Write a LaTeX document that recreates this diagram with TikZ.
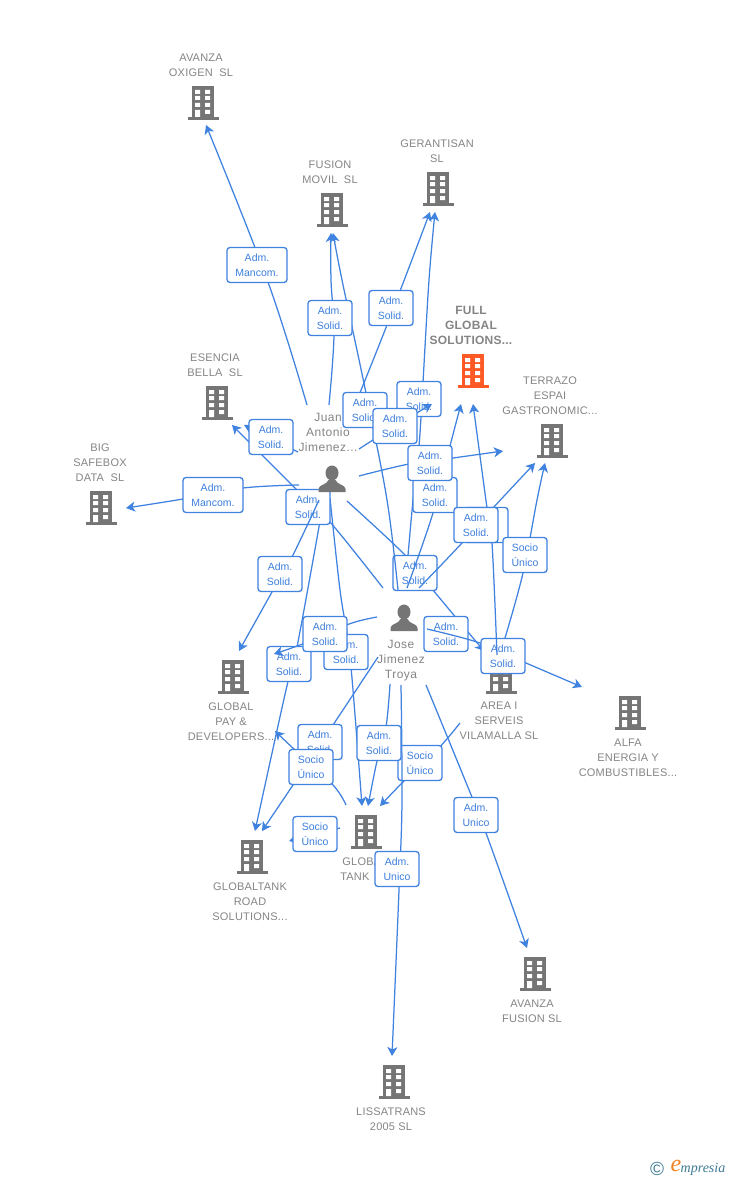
\documentclass[tikz,border=0pt]{standalone}
\usepackage{fontspec}
\setmainfont{Liberation Sans}
\newfontfamily\lblfont[LetterSpace=2]{Liberation Sans}
\newfontfamily\perfont[LetterSpace=4]{Liberation Sans}
\newfontfamily\logofont{Liberation Serif}
\usetikzlibrary{arrows.meta}
\definecolor{lnk}{HTML}{3F82E0}
\definecolor{boxtxt}{HTML}{3D7FDC}
\definecolor{lab}{HTML}{858585}
\definecolor{bgray}{HTML}{757575}
\definecolor{bor}{HTML}{FF5A26}
\definecolor{logoteal}{HTML}{3F7A94}
\definecolor{logoor}{HTML}{F58220}
\pgfdeclarelayer{paper}
\pgfdeclarelayer{back}
\pgfsetlayers{paper,back,main}
\tikzset{
  x=1pt,y=-1pt,
  link/.style={draw=lnk,line width=1.25pt,line join=round},
  arr/.style={link,-{Stealth[length=9pt,width=10pt,inset=2.5pt]}},
  rolebox/.style={draw=lnk,line width=1.3pt,fill=white,rounded corners=3pt,minimum width=44pt,minimum height=35pt,inner sep=0pt,align=center,text=boxtxt,font=\fontsize{10.5}{15}\selectfont},
  widebox/.style={rolebox,minimum width=60pt},
  lbl/.style={align=center,inner sep=0pt,text=lab,font=\lblfont\fontsize{11}{15}\selectfont},
  lblmain/.style={lbl,font=\lblfont\bfseries\fontsize{12}{15}\selectfont},
  perlbl/.style={align=center,inner sep=0pt,text=lab,font=\perfont\fontsize{12}{15}\selectfont},
  pics/bldg/.style={code={
    \coordinate (-c) at (0,0);
    \fill[#1] (-11,-17) rectangle (11,14);
    \fill[#1] (-15.5,14) rectangle (15.5,17);
    \fill[white] (-8,-13) rectangle (-3,-9) (2,-13) rectangle (7,-9)
                 (-8,-7) rectangle (-3,-3) (2,-7) rectangle (7,-3)
                 (-8,0) rectangle (-3,4) (2,0) rectangle (7,4)
                 (-8,7) rectangle (-3,14) (2,7) rectangle (7,11);
  }},
  pics/person/.style={code={
    \coordinate (-c) at (0,0);
    \fill[bgray] (0,-6) ellipse (6.5 and 7.5);
    \fill[bgray] (-13.5,13) -- (-13.5,10) .. controls (-13.5,5.5) and (-5,6) .. (-3.5,1) -- (3.5,1) .. controls (5,6) and (13.5,5.5) .. (13.5,10) -- (13.5,13) -- cycle;
  }}
}
\begin{document}
\begin{tikzpicture}
\useasboundingbox (0,0) rectangle (728,1180);
\begin{pgfonlayer}{paper}
\fill[white] (0,0) rectangle (728,1180);
\end{pgfonlayer}

% buildings
\pic (bOx) at (203,103) {bldg=bgray};
\pic (bFu) at (332,210) {bldg=bgray};
\pic (bGe) at (438,189) {bldg=bgray};
\pic (bFull) at (473,371) {bldg=bor};
\pic (bTe) at (552,441) {bldg=bgray};
\pic (bEs) at (217,403) {bldg=bgray};
\pic (bBig) at (101,508) {bldg=bgray};
\pic (bPay) at (233,677) {bldg=bgray};
\pic (bAlfa) at (630,713) {bldg=bgray};
\pic (bGt) at (366,832) {bldg=bgray};
\pic (bRoad) at (252,857) {bldg=bgray};
\pic (bAf) at (535,974) {bldg=bgray};
\pic (bLi) at (394,1082) {bldg=bgray};
\pic (juan) at (332,479) {person};
\pic (jose) at (404,618) {person};

% labels
\node[lbl] (tOx) at (201,65) {AVANZA\\OXIGEN\ \ SL};
\node[lbl] (tFu) at (330,172) {FUSION\\MOVIL\ \ SL};
\node[lbl] (tGe) at (437,151) {GERANTISAN\\SL};
\node[lblmain] (tFull) at (471,325.5) {FULL\\GLOBAL\\SOLUTIONS...};
\node[lbl] (tTe) at (550,395.5) {TERRAZO\\ESPAI\\GASTRONOMIC...};
\node[lbl] (tEs) at (215,365) {ESENCIA\\BELLA\ \ SL};
\node[lbl] (tBig) at (100,462.5) {BIG\\SAFEBOX\\DATA\ \ SL};
\node[lbl] (tPay) at (231,721.5) {GLOBAL\\PAY \&\\DEVELOPERS...};
\node[lbl] (tArea) at (499,720.5) {AREA I\\SERVEIS\\VILAMALLA SL};
\node[lbl] (tAlfa) at (628,757.5) {ALFA\\ENERGIA Y\\COMBUSTIBLES...};
\node[lbl] (tRoad) at (250,901.5) {GLOBALTANK\\ROAD\\SOLUTIONS...};
\node[lbl] (tGt) at (365,869) {GLOBAL\\TANK\ \ SL};
\node[lbl] (tAf) at (532,1011) {AVANZA\\FUSION SL};
\node[lbl] (tLi) at (391,1119) {LISSATRANS\\2005 SL};
\node[perlbl] (tJuan) at (328,432.5) {Juan\\Antonio\\Jimenez...};
\node[perlbl] (tJose) at (401,660.5) {Jose\\Jimenez\\Troya};

% role boxes that hide connectors
\node[widebox] (rOx) at (257,265) {Adm.\\Mancom.};
\node[rolebox] (rFu) at (330,318) {Adm.\\Solid.};
\node[rolebox] (rGe) at (391,308) {Adm.\\Solid.};
\node[rolebox] (rJf) at (365,410) {Adm.\\Solid.};
\node[rolebox] (rX) at (395,426) {Adm.\\Solid.};
\node[rolebox] (rEs) at (271,437) {Adm.\\Solid.};
\node[widebox] (rBig) at (213,495) {Adm.\\Mancom.};
\node[rolebox] (rFull) at (435,495) {Adm.\\Solid.};
\node[rolebox] (rTe) at (430,463) {Adm.\\Solid.};
\node[rolebox] (rAf) at (486,525) {};
\node[rolebox] (rJt) at (476,525) {Adm.\\Solid.};
\node[rolebox] (rAt) at (525,555) {Socio\\Único};
\node[rolebox] (rPay) at (280,574) {Adm.\\Solid.};
\node[rolebox] (rGt) at (346,652) {Adm.\\Solid.};
\node[rolebox] (rJp) at (325,634) {Adm.\\Solid.};
\node[rolebox] (rJr) at (320,742) {Adm.\\Solid.};
\node[rolebox] (rGp) at (311,767) {Socio\\Único};
\node[rolebox] (rJg) at (379,743) {Adm.\\Solid.};
\node[rolebox] (rGr) at (315,834) {Socio\\Único};
\node[rolebox] (rLi) at (397,869) {Adm.\\Unico};
\node[rolebox] (rAv) at (476,815) {Adm.\\Unico};

% connectors and the boxes they cross
\begin{pgfonlayer}{back}
\pic (bArea) at (501,677) {bldg=bgray};
% Juan
\coordinate (a1) at (307,405); \coordinate (z1) at (206,125);
\draw[arr] plot[smooth,tension=.6] coordinates {(a1) (268,282) (z1)};
\coordinate (a2) at (329,405); \coordinate (z2) at (331,233);
\draw[arr] plot[smooth,tension=.6] coordinates {(a2) (334,335) (331,280) (z2)};
\coordinate (a4) at (355,405); \coordinate (z4) at (430,212);
\draw[arr] plot[smooth,tension=.6] coordinates {(a4) (387,325) (z4)};
\coordinate (a7) at (359,476); \coordinate (z7) at (503,451);
\draw[arr] plot[smooth,tension=.6] coordinates {(a7) (409,464) (453,458) (z7)};
\coordinate (a10) at (298,452); \coordinate (z10) at (244,425);
\draw[arr] (a10) -- (z10);
\coordinate (a12) at (299,485); \coordinate (z12) at (126,508);
\draw[arr] plot[smooth,tension=.6] coordinates {(a12) (243,488) (183,499) (z12)};
\coordinate (a14) at (322,510); \coordinate (z14) at (255,831);
\draw[arr] plot[smooth,tension=.6] coordinates {(a14) (297,647) (286,690) (z14)};
\coordinate (a15) at (330,498); \coordinate (z15) at (362,806);
\draw[arr] plot[smooth,tension=.6] coordinates {(a15) (340,590) (348,640) (353,690) (z15)};
\coordinate (a24) at (347,501); \coordinate (z24) at (484,651);
\draw[arr] plot[smooth,tension=.6] coordinates {(a24) (407,557) (433,590) (z24)};
\coordinate (a5) at (405,590); \coordinate (z5) at (435,212);
\draw[arr] plot[smooth,tension=.6] coordinates {(a5) (413,500) (419,446) (423,382) (429,280) (z5)};
\coordinate (a11) at (383,588); \coordinate (z11) at (232,425);
\draw[arr] plot[smooth,tension=.6] coordinates {(a11) (330,522) (295,488) (z11)};
\coordinate (a22) at (460,723); \coordinate (z22) at (380,806);
\draw[arr] plot[smooth,tension=.6] coordinates {(a22) (437,750) (405,780) (z22)};
% boxes that other connectors cross
\node[rolebox] (rJo) at (308,507) {Adm.\\Solid.};
\node[rolebox] (rAr) at (415,573) {Adm.\\Solid.};
\node[rolebox] (rAl2) at (446,634) {Adm.\\Solid.};
\node[rolebox] (rRo) at (289,664) {Adm.\\Solid.};
\node[rolebox] (rJg2) at (419,399) {Adm.\\Solid.};
\node[rolebox] (rArG) at (420,763) {Socio\\Único};
\coordinate (a25) at (427,629); \coordinate (z25) at (582,687);
\draw[arr] plot[smooth,tension=.6] coordinates {(a25) (480,643) (526,663) (z25)};
\node[rolebox] (rAl) at (503,656) {Adm.\\Solid.};
% Jose
\coordinate (a13) at (319,500); \coordinate (z13) at (239,651);
\draw[arr] plot[smooth,tension=.6] coordinates {(a13) (292,557) (272,592) (z13)};
\coordinate (a3) at (398,590); \coordinate (z3) at (333,233);
\draw[arr] plot[smooth,tension=.6] coordinates {(a3) (387,500) (366,393) (342,280) (z3)};
\coordinate (a6) at (359,449); \coordinate (z6) at (432,404);
\draw[arr] plot[smooth,tension=.6] coordinates {(a6) (rX) (z6)};
\coordinate (a8) at (407,588); \coordinate (z8) at (461,404);
\draw[arr] plot[smooth,tension=.6] coordinates {(a8) (433,513) (450,446) (z8)};
\coordinate (a9) at (497,655); \coordinate (z9) at (473,404);
\draw[arr] plot[smooth,tension=.6] coordinates {(a9) (492,543) (487,508) (z9)};
\coordinate (a26) at (419,588); \coordinate (z26) at (535,463);
\draw[arr] plot[smooth,tension=.6] coordinates {(a26) (462,543) (493,508) (z26)};
\coordinate (a27) at (505,638); \coordinate (z27) at (545,463);
\draw[arr] plot[smooth,tension=.6] coordinates {(a27) (523,573) (537,500) (z27)};
\coordinate (a16) at (377,617); \coordinate (z16) at (274,654);
\draw[arr] plot[smooth,tension=.6] coordinates {(a16) (349,624) (305,643) (z16)};
\coordinate (a17) at (378,657); \coordinate (z17) at (262,831);
\draw[arr] plot[smooth,tension=.6] coordinates {(a17) (333,725) (293,785) (z17)};
\coordinate (a18) at (346,805); \coordinate (z18) at (275,731);
\draw[arr] plot[smooth,tension=.6] coordinates {(a18) (333,785) (295,750) (z18)};
\coordinate (a19) at (390,684); \coordinate (z19) at (368,806);
\draw[arr] plot[smooth,tension=.6] coordinates {(a19) (386,727) (377,761) (z19)};
\coordinate (a21) at (426,685); \coordinate (z21) at (527,948);
\draw[arr] plot[smooth,tension=.6] coordinates {(a21) (465,780) (486,833) (z21)};
\coordinate (a23) at (340,828); \coordinate (z23) at (289,841);
\draw[arr] (a23) -- (z23);
\coordinate (a20) at (401,685); \coordinate (z20) at (392,1056);
\draw[arr] plot[smooth,tension=.6] coordinates {(a20) (402,800) (399,890) (z20)};
\end{pgfonlayer}

% logo
\node[inner sep=0pt,text=logoteal,font=\fontsize{19}{19}\selectfont] (cp) at (657,1169) {©};
\node[inner sep=0pt,text=logoor,font=\logofont\itshape\fontsize{24}{24}\selectfont] (le) at (676,1166) {e};
\node[inner sep=0pt,text=logoteal,font=\logofont\itshape\fontsize{14}{15}\selectfont] (lm) at (703,1169) {mpresia};
\end{tikzpicture}
\end{document}
